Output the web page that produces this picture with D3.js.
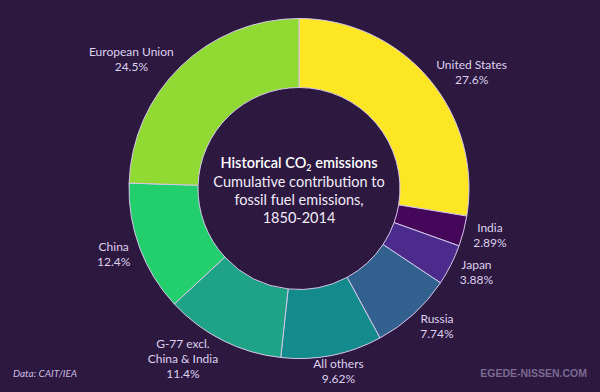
<!DOCTYPE html>
<html>
<head>
<meta charset="utf-8">
<script src="https://cdn.jsdelivr.net/npm/d3@7"></script>
<style>
  html, body { margin: 0; padding: 0; background: #2d1840; }
  svg { display: block; }
</style>
</head>
<body>
<svg id="chart" width="600" height="392"></svg>
<script>
const categories = ["United States", "India", "Japan", "Russia", "All others", "G-77 excl.\nChina & India", "China", "European Union"];
const values = [27.6, 2.89, 3.88, 7.74, 9.62, 11.4, 12.4, 24.5];
const colors = ["#fde725", "#45075a", "#4b2c8c", "#33618f", "#138a8c", "#1fa386", "#22cf6c", "#91da33"];
const titleLines = ["Cumulative contribution to", "fossil fuel emissions,", "1850-2014"];
const sourceText = "Data: CAIT/IEA";
const creditText = "EGEDE-NISSEN.COM";

const W = 600, H = 392;
const cx = 299, cy = 188.5, R = 170, r = 101, labelR = 180;

const svg = d3.select("#chart");
svg.append("rect").attr("width", W).attr("height", H).attr("fill", "#2d1840");

const data = categories.map((c, i) => ({ name: c, value: values[i], color: colors[i] }));
const pie = d3.pie().sort(null).value(d => d.value).startAngle(0).endAngle(2 * Math.PI);
const arcs = pie(data);
const arc = d3.arc().innerRadius(r).outerRadius(R);

const g = svg.append("g").attr("transform", `translate(${cx},${cy})`);
g.selectAll("path").data(arcs).join("path")
  .attr("d", arc)
  .attr("fill", d => d.data.color)
  .attr("stroke", "#d6c8ea")
  .attr("stroke-width", 1);

const fmt = d3.format(".3r");
const lh = 15;
arcs.forEach(d => {
  const a = (d.startAngle + d.endAngle) / 2;
  const sa = Math.sin(a), ca = Math.cos(a);
  const px = cx + labelR * sa, py = cy - labelR * ca;
  const lines = d.data.name.split("\n").concat([fmt(d.data.value) + "%"]);
  const t = svg.append("text")
    .attr("font-family", "Lato, 'Open Sans', sans-serif")
    .attr("font-size", 12)
    .attr("fill", "#ddd1ee")
    .attr("text-anchor", "middle");
  const tspans = lines.map((l, i) => t.append("tspan").text(l));
  const w = d3.max(tspans, s => s.node().getComputedTextLength());
  const h = lines.length * lh;
  const k = Math.sign(sa) * Math.min(1, sa * sa * 5);
  const x = px + k * w / 2;
  const yoff = ca < 0 ? -ca * h / 2 * 0.45 : 0;
  const y0 = py + yoff - h / 2 + lh / 2;
  tspans.forEach((s, i) => s.attr("x", x).attr("y", y0 + i * lh).attr("dy", "0.35em"));
});

// Center title
const ct = svg.append("g").attr("font-family", "Lato, 'Open Sans', sans-serif").attr("text-anchor", "middle");
const t1 = ct.append("text").attr("x", cx).attr("y", 163).attr("dy", "0.35em")
  .attr("font-size", 14.5).attr("font-weight", 600).attr("fill", "#ffffff");
t1.append("tspan").text("Historical CO");
t1.append("tspan").attr("font-size", 9).attr("dy", 3).text("2");
t1.append("tspan").attr("dy", -3).text(" emissions");
titleLines.forEach((l, i) => {
  ct.append("text").attr("x", cx).attr("y", 181.5 + i * 18).attr("dy", "0.35em")
    .attr("font-size", 14.5).attr("fill", "#f2ecf8").text(l);
});

svg.append("text").attr("x", 13).attr("y", 373).attr("dy", "0.35em")
  .attr("font-family", "Lato, 'Open Sans', sans-serif").attr("font-size", 10).attr("font-style", "italic")
  .attr("fill", "#cbbde0").text(sourceText);

svg.append("text").attr("x", 587).attr("y", 373).attr("dy", "0.35em").attr("text-anchor", "end")
  .attr("font-family", "'Liberation Sans', Arial, sans-serif").attr("font-size", 10.5).attr("font-weight", "bold")
  .attr("fill", "#7b6a92").text(creditText);
</script>
</body>
</html>
